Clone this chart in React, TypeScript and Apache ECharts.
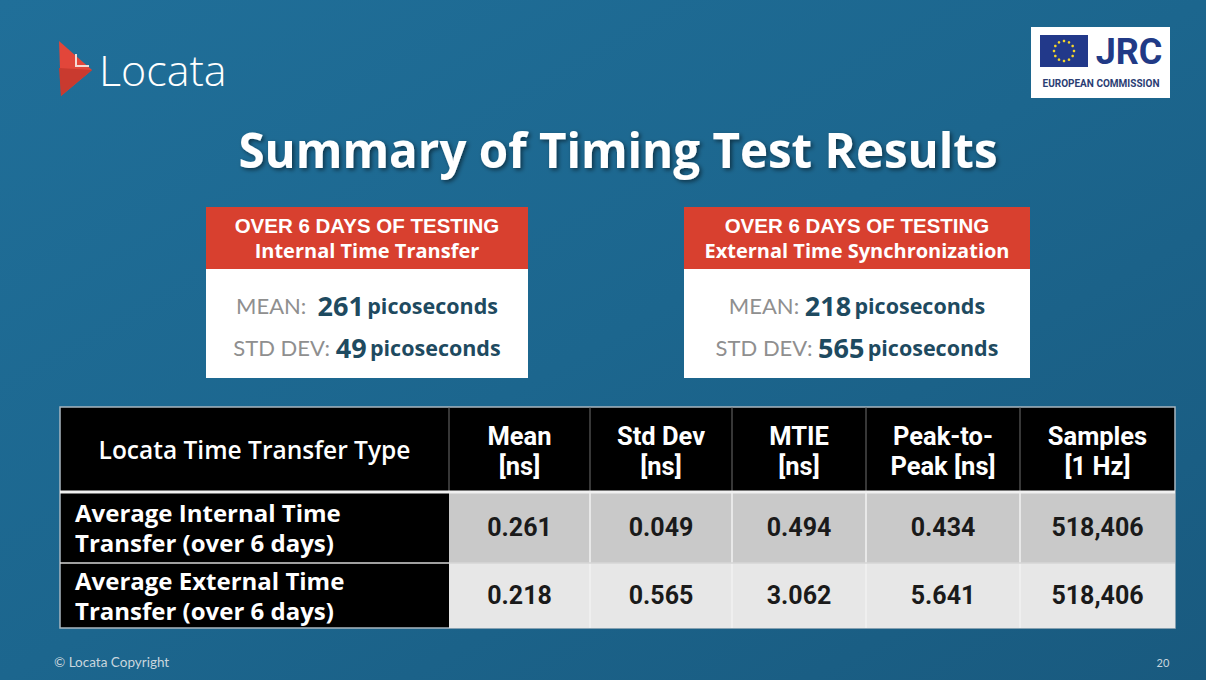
import React, { useEffect, useRef } from "react";
import * as echarts from "echarts";

const slideTitle = "Summary of Timing Test Results";
const boxHeadline = "OVER 6 DAYS OF TESTING";
const boxSubtitles = ["Internal Time Transfer", "External Time Synchronization"];
const boxMeanLabels = ["MEAN:  ", "MEAN: "];
const boxMeans = ["261", "218"];
const boxStdDevs = ["49", "565"];
const boxUnit = "picoseconds";

const tableHeaders = [
  "Locata Time Transfer Type",
  "Mean\n[ns]",
  "Std Dev\n[ns]",
  "MTIE\n[ns]",
  "Peak-to-\nPeak [ns]",
  "Samples\n[1 Hz]",
];
const rowLabels = [
  "Average Internal Time\nTransfer (over 6 days)",
  "Average External Time\nTransfer (over 6 days)",
];
const meanNs = ["0.261", "0.218"];
const stdDevNs = ["0.049", "0.565"];
const mtieNs = ["0.494", "3.062"];
const peakToPeakNs = ["0.434", "5.641"];
const samples1Hz = ["518,406", "518,406"];

const W = 1206;
const H = 680;

export default function App() {
  const ref = useRef<HTMLDivElement>(null);

  useEffect(() => {
    if (!ref.current) return;
    const chart = echarts.init(ref.current, undefined, { renderer: "svg", width: W, height: H });
    const g: any[] = [];

    // background
    g.push({
      type: "rect",
      shape: { x: 0, y: 0, width: W, height: H },
      style: {
        fill: new echarts.graphic.LinearGradient(0, 0, 1, 1, [
          { offset: 0, color: "#206f99" },
          { offset: 0.5, color: "#1c668e" },
          { offset: 1, color: "#195a7f" },
        ]),
      },
    });

    // Locata logo
    g.push({ type: "polygon", shape: { points: [[59, 41], [92, 70], [61, 96]] }, style: { fill: "#e2463a" } });
    g.push({ type: "polygon", shape: { points: [[59, 68], [92, 70], [61, 96]] }, style: { fill: "#c93a2f" } });
    g.push({
      type: "polyline",
      shape: { points: [[76, 54], [76, 66], [89, 66]] },
      style: { stroke: "#f4d9d4", lineWidth: 2, fill: null },
    });
    g.push({
      type: "text",
      style: {
        text: "Locata",
        x: 99,
        y: 69,
        verticalAlign: "middle",
        fill: "#ffffff",
        fontFamily: "Open Sans",
        fontWeight: 300,
        fontSize: 43,
      },
    });

    // JRC logo
    g.push({ type: "rect", shape: { x: 1031, y: 27, width: 139, height: 71 }, style: { fill: "#ffffff" } });
    g.push({ type: "rect", shape: { x: 1040, y: 35, width: 48, height: 32 }, style: { fill: "#22398a" } });
    for (let i = 0; i < 12; i++) {
      const a = (i / 12) * Math.PI * 2;
      g.push({
        type: "circle",
        shape: { cx: 1064 + Math.cos(a) * 10, cy: 51 + Math.sin(a) * 10, r: 1.3 },
        style: { fill: "#f5d62a" },
      });
    }
    g.push({
      type: "text",
      style: {
        text: "JRC",
        x: 1129,
        y: 52,
        align: "center",
        verticalAlign: "middle",
        fill: "#213a86",
        fontFamily: "Roboto",
        fontWeight: "bold",
        fontSize: 36,
      },
    });
    g.push({
      type: "text",
      style: {
        text: "EUROPEAN COMMISSION",
        x: 1101,
        y: 83,
        align: "center",
        verticalAlign: "middle",
        fill: "#2b3d73",
        fontFamily: "Roboto",
        fontWeight: "bold",
        fontSize: 10,
      },
    });

    // Title
    g.push({
      type: "text",
      style: {
        text: slideTitle,
        x: 618,
        y: 149,
        align: "center",
        verticalAlign: "middle",
        fill: "#ffffff",
        fontFamily: "Open Sans",
        fontWeight: "bold",
        fontSize: 47.5,
        textShadowColor: "rgba(0,0,0,0.5)",
        textShadowBlur: 4,
        textShadowOffsetX: 2,
        textShadowOffsetY: 2,
      },
    });

    // Boxes
    const boxX = [206, 684];
    const boxW = [322, 346];
    for (let b = 0; b < 2; b++) {
      const x0 = boxX[b];
      const w = boxW[b];
      const cx = x0 + w / 2;
      g.push({ type: "rect", shape: { x: x0, y: 207, width: w, height: 171 }, style: { fill: "#ffffff" } });
      g.push({ type: "rect", shape: { x: x0, y: 207, width: w, height: 62 }, style: { fill: "#d8402f" } });
      g.push({
        type: "text",
        style: {
          text: boxHeadline,
          x: cx,
          y: 225,
          align: "center",
          verticalAlign: "middle",
          fill: "#ffffff",
          fontFamily: "Liberation Sans",
          fontWeight: "bold",
          fontSize: 20.5,
          lineHeight: 22,
        },
      });
      g.push({
        type: "text",
        style: {
          text: boxSubtitles[b],
          x: cx,
          y: 250,
          align: "center",
          verticalAlign: "middle",
          fill: "#ffffff",
          fontFamily: "Open Sans",
          fontWeight: "bold",
          fontSize: 20,
          lineHeight: 22,
        },
      });
      const rich = {
        l: { fill: "#8f8f8f", fontFamily: "Lato", fontWeight: "normal", fontSize: 22 },
        n: { fill: "#1e4a60", fontFamily: "Open Sans", fontWeight: "bold", fontSize: 27 },
        p: { fill: "#1e4a60", fontFamily: "Open Sans", fontWeight: "bold", fontSize: 21.5 },
      };
      g.push({
        type: "text",
        style: {
          text: `{l|${boxMeanLabels[b]}}{n|${boxMeans[b]}} {p|${boxUnit}}`,
          rich,
          x: cx,
          y: 305,
          align: "center",
          verticalAlign: "middle",
        },
      });
      g.push({
        type: "text",
        style: {
          text: `{l|STD DEV: }{n|${boxStdDevs[b]}} {p|${boxUnit}}`,
          rich,
          x: cx,
          y: 347,
          align: "center",
          verticalAlign: "middle",
        },
      });
    }

    // Table
    const colX = [60, 449, 590, 732, 866, 1020, 1175];
    const rowY = [407, 492, 563, 628];
    const dataCols = [meanNs, stdDevNs, mtieNs, peakToPeakNs, samples1Hz];
    const rowFills = ["#c9c9c9", "#e7e7e7"];

    g.push({
      type: "rect",
      shape: { x: colX[0], y: rowY[0], width: colX[6] - colX[0], height: rowY[3] - rowY[0] },
      style: { fill: "#000000", stroke: "#a9b6c0", lineWidth: 1.5 },
    });
    for (let r = 0; r < 2; r++) {
      g.push({
        type: "rect",
        shape: { x: colX[1], y: rowY[r + 1], width: colX[6] - colX[1], height: rowY[r + 2] - rowY[r + 1] },
        style: { fill: rowFills[r] },
      });
    }
    for (let c = 1; c < 6; c++) {
      g.push({
        type: "line",
        shape: { x1: colX[c], y1: rowY[0], x2: colX[c], y2: rowY[1] },
        style: { stroke: "#6e6e6e", lineWidth: 1 },
      });
      if (c > 1) {
        g.push({
          type: "line",
          shape: { x1: colX[c], y1: rowY[1], x2: colX[c], y2: rowY[3] },
          style: { stroke: "#f2f2f2", lineWidth: 1.5 },
        });
      }
    }
    g.push({
      type: "line",
      shape: { x1: colX[0], y1: rowY[1], x2: colX[6], y2: rowY[1] },
      style: { stroke: "#f0f0f0", lineWidth: 3 },
    });
    g.push({
      type: "line",
      shape: { x1: colX[0], y1: rowY[2], x2: colX[6], y2: rowY[2] },
      style: { stroke: "#d6d6d6", lineWidth: 1.5 },
    });

    g.push({
      type: "text",
      style: {
        text: tableHeaders[0],
        x: (colX[0] + colX[1]) / 2,
        y: (rowY[0] + rowY[1]) / 2,
        align: "center",
        verticalAlign: "middle",
        fill: "#ffffff",
        fontFamily: "Open Sans",
        fontWeight: 600,
        fontSize: 24.5,
      },
    });
    for (let c = 1; c < 6; c++) {
      g.push({
        type: "text",
        style: {
          text: tableHeaders[c],
          x: (colX[c] + colX[c + 1]) / 2,
          y: (rowY[0] + rowY[1]) / 2 + 1,
          align: "center",
          verticalAlign: "middle",
          fill: "#ffffff",
          fontFamily: "Roboto",
          fontWeight: "bold",
          fontSize: 25.5,
          lineHeight: 30,
        },
      });
    }
    for (let r = 0; r < 2; r++) {
      const cy = (rowY[r + 1] + rowY[r + 2]) / 2;
      g.push({
        type: "text",
        style: {
          text: rowLabels[r],
          x: 75,
          y: cy,
          align: "left",
          verticalAlign: "middle",
          fill: "#ffffff",
          fontFamily: "Open Sans",
          fontWeight: "bold",
          fontSize: 24,
          lineHeight: 30,
        },
      });
      for (let c = 0; c < 5; c++) {
        g.push({
          type: "text",
          style: {
            text: dataCols[c][r],
            x: (colX[c + 1] + colX[c + 2]) / 2,
            y: cy,
            align: "center",
            verticalAlign: "middle",
            fill: "#1a1a1a",
            fontFamily: "Roboto",
            fontWeight: "bold",
            fontSize: 25,
          },
        });
      }
    }

    // footer
    g.push({
      type: "text",
      style: {
        text: "© Locata Copyright",
        x: 54,
        y: 662,
        verticalAlign: "middle",
        fill: "#c9d6de",
        fontFamily: "Lato",
        fontSize: 13.5,
      },
    });
    g.push({
      type: "text",
      style: {
        text: "20",
        x: 1163,
        y: 662,
        align: "center",
        verticalAlign: "middle",
        fill: "#c9d6de",
        fontFamily: "Lato",
        fontSize: 11,
      },
    });

    chart.setOption({ animation: false, graphic: { elements: g } });
    return () => chart.dispose();
  }, []);

  return (
    <div
      ref={ref}
      style={{ position: "absolute", left: 0, top: 0, width: W, height: H }}
    />
  );
}
